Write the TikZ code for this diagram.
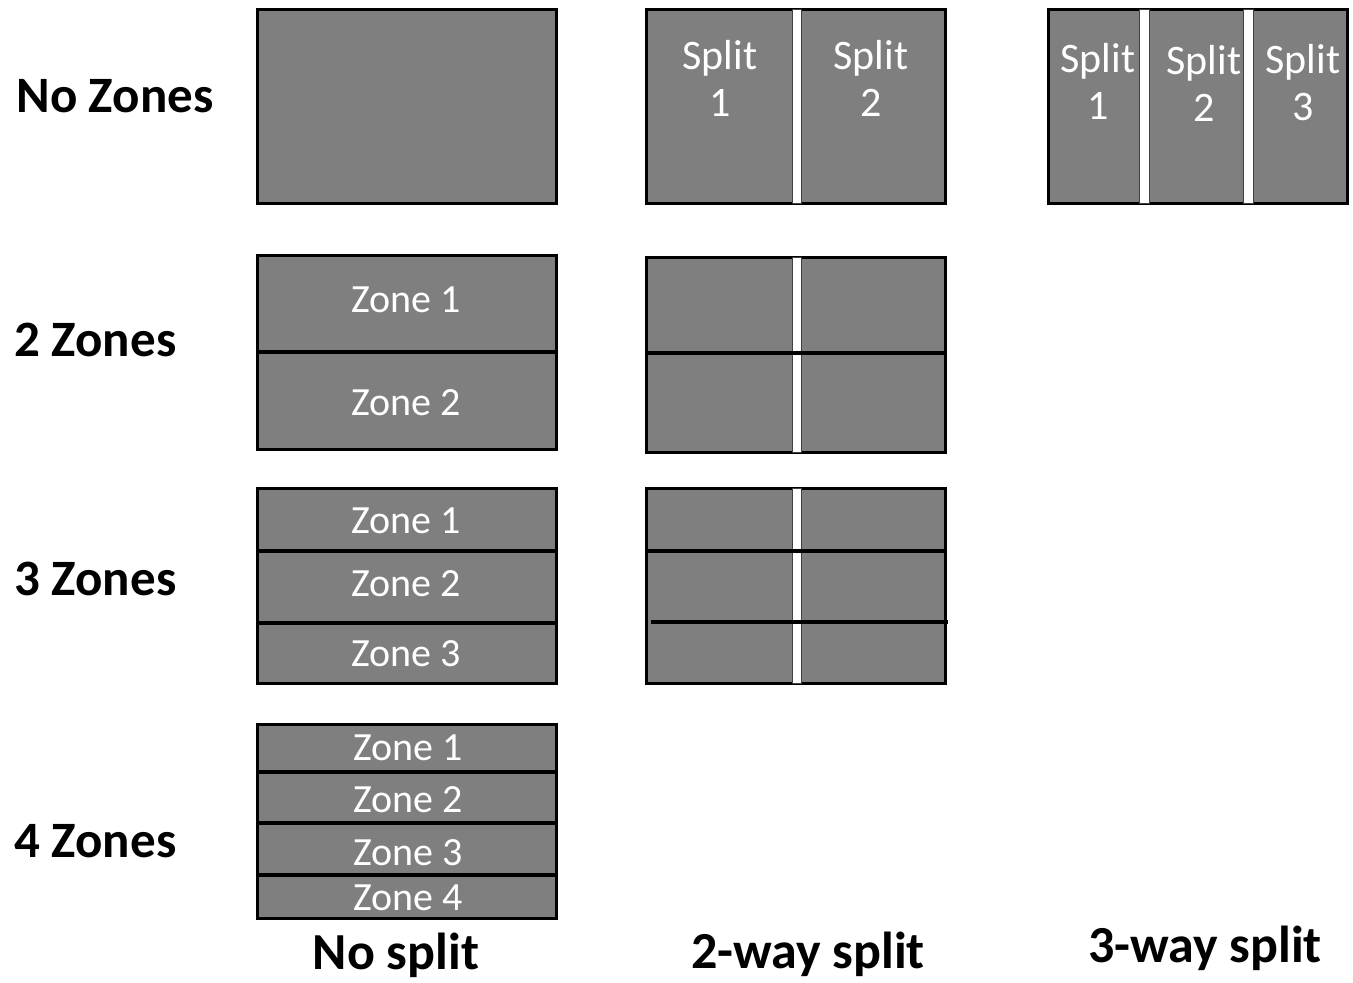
\documentclass[tikz,border=0pt]{standalone}
\usepackage{fontspec}
\setmainfont{Carlito}
\definecolor{panelgray}{HTML}{7F7F7F}
\begin{document}
\begin{tikzpicture}[x=0.5pt,y=-0.5pt,
  panel/.style={draw=black,line width=1.5pt,fill=panelgray},
  sep/.style={line width=2pt},
  bar/.style={draw=black!75,line width=0.5pt,fill=white},
  ztxt/.style={text=white,font=\fontsize{20}{20}\selectfont},
  stxt/.style={text=white,align=center,font=\fontsize{21}{23.5}\selectfont},
  rowlbl/.style={anchor=west,inner sep=0pt,font=\fontsize{25.5}{25.5}\selectfont\bfseries},
  collbl/.style={anchor=base,inner sep=0pt,font=\fontsize{26}{26}\selectfont\bfseries}]
\useasboundingbox (0,0) rectangle (1353,982);

% row labels
\node[rowlbl] (nozones) at (16,96) {No Zones};
\node[rowlbl] (twozones) at (14,340) {2 Zones};
\node[rowlbl] (threezones) at (14,579) {3 Zones};
\node[rowlbl] (fourzones) at (14,841) {4 Zones};

% column labels
\node[collbl] (nosplit) at (396,969) {No split};
\node[collbl] (twoway) at (808,968) {2-way split};
\node[collbl] (threeway) at (1205,962) {3-way split};

%--------------------------------------------------------
% no zones
\draw[panel] (257,9) rectangle (556,203);

\draw[panel] (646,9) rectangle (945,203);
\draw[bar] (792,9) rectangle (801,203);
\node[stxt] (s21) at (720,78) {Split\\1};
\node[stxt] (s22) at (871,78) {Split\\2};

\draw[panel] (1048,9) rectangle (1347,203);
\draw[bar] (1139,9) rectangle (1149,203);
\draw[bar] (1243,9) rectangle (1253,203);
\node[stxt] (s31) at (1098,81) {Split\\1};
\node[stxt] (s32) at (1204,83) {Split\\2};
\node[stxt] (s33) at (1303,83) {Split\\3};

%--------------------------------------------------------
% 2 zones
\draw[panel] (257,255) rectangle (556,449);
\draw[sep] (257,352) -- (556,352);
\node[ztxt] (z21) at (406,300) {Zone 1};
\node[ztxt] (z22) at (406,403) {Zone 2};

\draw[panel] (646,257) rectangle (945,452);
\draw[bar] (792,257) rectangle (801,452);
\draw[sep] (646,353) -- (945,353);

%--------------------------------------------------------
% 3 zones
\draw[panel] (257,488) rectangle (556,683);
\draw[sep] (257,551) -- (556,551);
\draw[sep] (257,623) -- (556,623);
\node[ztxt] (z31) at (406,521) {Zone 1};
\node[ztxt] (z32) at (406,584) {Zone 2};
\node[ztxt] (z33) at (406,654) {Zone 3};

\draw[panel] (646,488) rectangle (945,683);
\draw[bar] (792,488) rectangle (801,683);
\draw[sep] (646,551) -- (945,551);
\draw[sep] (651,622) -- (948,622);

%--------------------------------------------------------
% 4 zones
\draw[panel] (257,724) rectangle (556,918);
\draw[sep] (257,772) -- (556,772);
\draw[sep] (257,823) -- (556,823);
\draw[sep] (257,875) -- (556,875);
\node[ztxt] (z41) at (408,748) {Zone 1};
\node[ztxt] (z42) at (408,800) {Zone 2};
\node[ztxt] (z43) at (408,853) {Zone 3};
\node[ztxt] (z44) at (408,898) {Zone 4};
\end{tikzpicture}
\end{document}
